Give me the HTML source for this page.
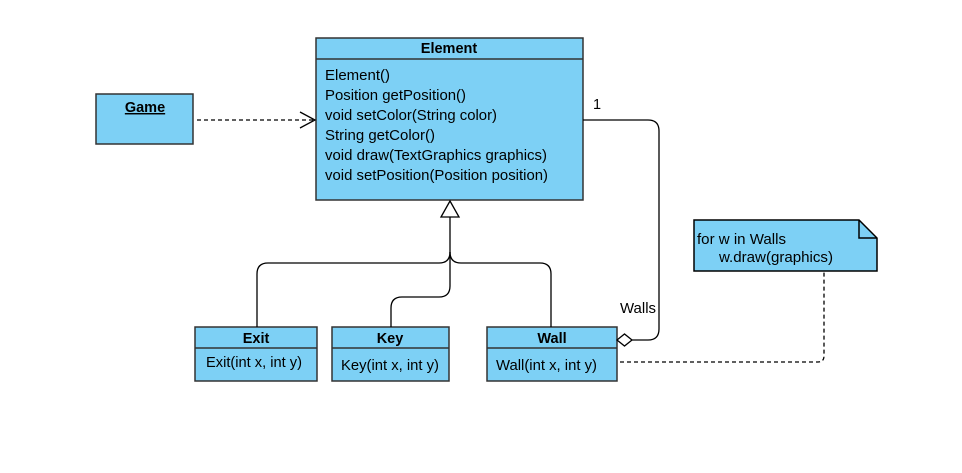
<!DOCTYPE html>
<html><head><style>
html,body{margin:0;background:#fff;width:962px;height:473px;overflow:hidden;}
svg{display:block;}
svg text{font-family:"Liberation Sans",Arial,sans-serif;font-size:14.5px;fill:#000;}
</style></head><body>
<svg width="962" height="473" viewBox="0 0 962 473" xmlns="http://www.w3.org/2000/svg">
<rect width="962" height="473" fill="#fff"/>
<g stroke="#333" stroke-width="1.5" fill="#7dd0f5">
<rect x="316" y="38" width="267" height="162"/>
<line x1="316" y1="59" x2="583" y2="59"/>
<rect x="96" y="94" width="97" height="50"/>
<rect x="195" y="327" width="122" height="54"/>
<line x1="195" y1="348" x2="317" y2="348"/>
<rect x="332" y="327" width="117" height="54"/>
<line x1="332" y1="348" x2="449" y2="348"/>
<rect x="487" y="327" width="130" height="54"/>
<line x1="487" y1="348" x2="617" y2="348"/>
<path d="M694 220 H859 L877 238 V271 H694 Z" stroke="#000"/>
<path d="M859 220 V238 H877" fill="none" stroke="#000"/>
</g>
<g fill="none" stroke="#000" stroke-width="1.3">
<path d="M197 120 H314" stroke-dasharray="4 3"/>
<path d="M300 112 L315 120 L300 128"/>
<path d="M450 217 V252 Q450 263 439 263 H268 Q257 263 257 274 V327"/>
<path d="M450 252 Q450 263 461 263 H540 Q551 263 551 274 V327"/>
<path d="M450 252 V286 Q450 297 439 297 H402 Q391 297 391 308 V327"/>
<path d="M441 217 H459 L450 201 Z" fill="#fff"/>
<path d="M583 120 H648 Q659 120 659 131 V329 Q659 340 648 340 H632"/>
<path d="M617 340 L624.5 334 L632 340 L624.5 346 Z" fill="#fff"/>
<path d="M620 362 H818 Q824 362 824 356 V271" stroke-dasharray="4 3"/>
</g>
<text x="449" y="53" text-anchor="middle" font-weight="bold">Element</text>
<text x="325" y="80" textLength="65" lengthAdjust="spacingAndGlyphs">Element()</text>
<text x="325" y="100" textLength="141" lengthAdjust="spacingAndGlyphs">Position getPosition()</text>
<text x="325" y="120" textLength="172" lengthAdjust="spacingAndGlyphs">void setColor(String color)</text>
<text x="325" y="140" textLength="110" lengthAdjust="spacingAndGlyphs">String getColor()</text>
<text x="325" y="160" textLength="222" lengthAdjust="spacingAndGlyphs">void draw(TextGraphics graphics)</text>
<text x="325" y="180" textLength="223" lengthAdjust="spacingAndGlyphs">void setPosition(Position position)</text>
<text x="145" y="112" text-anchor="middle" font-weight="bold" text-decoration="underline">Game</text>
<text x="256" y="343" text-anchor="middle" font-weight="bold">Exit</text>
<text x="206" y="367" textLength="96" lengthAdjust="spacingAndGlyphs">Exit(int x, int y)</text>
<text x="390" y="343" text-anchor="middle" font-weight="bold">Key</text>
<text x="341" y="370" textLength="98" lengthAdjust="spacingAndGlyphs">Key(int x, int y)</text>
<text x="552" y="343" text-anchor="middle" font-weight="bold">Wall</text>
<text x="496" y="370" textLength="101" lengthAdjust="spacingAndGlyphs">Wall(int x, int y)</text>
<text x="593" y="109">1</text>
<text x="620" y="313" textLength="36" lengthAdjust="spacingAndGlyphs">Walls</text>
<text x="697" y="244" textLength="89" lengthAdjust="spacingAndGlyphs">for w in Walls</text>
<text x="719" y="262" textLength="114" lengthAdjust="spacingAndGlyphs">w.draw(graphics)</text>
</svg>
</body></html>
